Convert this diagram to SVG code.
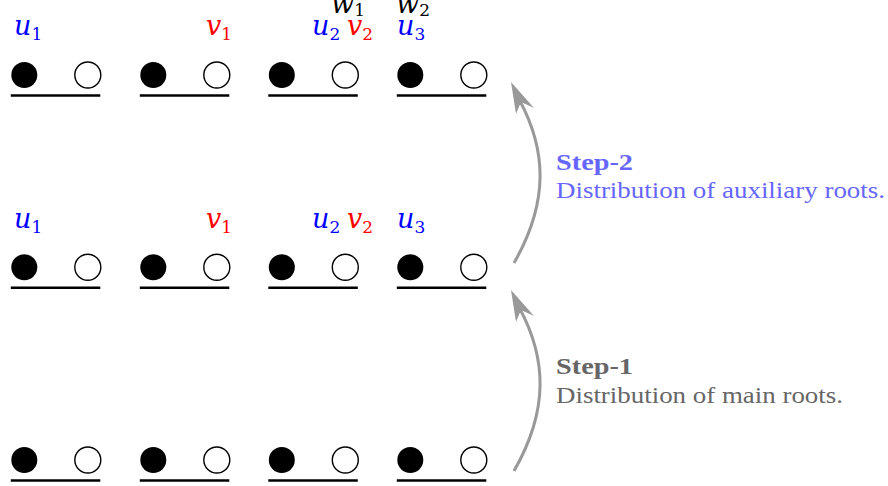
<svg xmlns="http://www.w3.org/2000/svg" width="888" height="486" viewBox="0 0 888 486">
<style>
.f{fill:#000}
.o{fill:#fff;stroke:#000;stroke-width:1.4}
.b{stroke:#000;stroke-width:2.6}
.m{font-family:"DejaVu Serif","Liberation Serif",serif;font-style:italic;font-size:27px}
.s{font-style:normal;font-size:17px}
.bl{fill:#0000ff}
.rd{fill:#ff0000}
.bk{fill:#000}
.t{font-family:"Liberation Serif","DejaVu Serif",serif;font-size:23px}
.arr{fill:none;stroke:#999;stroke-width:3}
.ah{fill:#999}
</style>
<defs>
<g id="unit">
<circle cx="0" cy="0" r="13" class="f"/>
<circle cx="63.5" cy="0" r="13" class="o"/>
<line x1="-13.5" y1="20.5" x2="76" y2="20.5" class="b"/>
</g>
</defs>
<g id="r1c1"><use href="#unit" x="24.3" y="75"/></g>
<g id="r1c2"><use href="#unit" x="153.3" y="75"/></g>
<g id="r1c3"><use href="#unit" x="281.8" y="75"/></g>
<g id="r1c4"><use href="#unit" x="410.3" y="75"/></g>
<g id="r2c1"><use href="#unit" x="24.3" y="267.3"/></g>
<g id="r2c2"><use href="#unit" x="153.3" y="267.3"/></g>
<g id="r2c3"><use href="#unit" x="281.8" y="267.3"/></g>
<g id="r2c4"><use href="#unit" x="410.3" y="267.3"/></g>
<g id="r3c1"><use href="#unit" x="24.3" y="460"/></g>
<g id="r3c2"><use href="#unit" x="153.3" y="460"/></g>
<g id="r3c3"><use href="#unit" x="281.8" y="460"/></g>
<g id="r3c4"><use href="#unit" x="410.3" y="460"/></g>
<g id="labels-top">
<text x="14" y="35" class="m bl">u<tspan class="s" dy="5">1</tspan></text>
<text x="206" y="35" class="m rd">v<tspan class="s" dy="5">1</tspan></text>
<text x="312" y="35" class="m bl">u<tspan class="s" dy="5">2</tspan></text>
<text x="347" y="35" class="m rd">v<tspan class="s" dy="5">2</tspan></text>
<text x="397" y="35" class="m bl">u<tspan class="s" dy="5">3</tspan></text>
<text x="331" y="13" class="m bk">w<tspan class="s" dy="3">1</tspan></text>
<text x="396" y="13" class="m bk">w<tspan class="s" dy="3">2</tspan></text>
</g>
<g id="labels-mid">
<text x="14" y="227.5" class="m bl">u<tspan class="s" dy="5">1</tspan></text>
<text x="206" y="227.5" class="m rd">v<tspan class="s" dy="5">1</tspan></text>
<text x="312" y="227.5" class="m bl">u<tspan class="s" dy="5">2</tspan></text>
<text x="347" y="227.5" class="m rd">v<tspan class="s" dy="5">2</tspan></text>
<text x="397" y="227.5" class="m bl">u<tspan class="s" dy="5">3</tspan></text>
</g>
<g id="connectors">
<path class="arr" d="M514,263 C549.5,201 546,150 520,101"/>
<polygon class="ah" points="511,82 534,108 521,102 516,114"/>
<path class="arr" d="M514,471 C549.5,409 546,358 520,309"/>
<polygon class="ah" points="511,290 534,316 521,310 516,322"/>
</g>
<g id="step2">
<text x="556" y="170" class="t" fill="#6666ff" font-weight="bold" textLength="77" lengthAdjust="spacingAndGlyphs">Step-2</text>
<text x="556" y="198" class="t" fill="#6666ff" textLength="329" lengthAdjust="spacingAndGlyphs">Distribution of auxiliary roots.</text>
</g>
<g id="step1">
<text x="556" y="374" class="t" fill="#666666" font-weight="bold" textLength="77" lengthAdjust="spacingAndGlyphs">Step-1</text>
<text x="556" y="403" class="t" fill="#666666" textLength="287" lengthAdjust="spacingAndGlyphs">Distribution of main roots.</text>
</g>
</svg>
